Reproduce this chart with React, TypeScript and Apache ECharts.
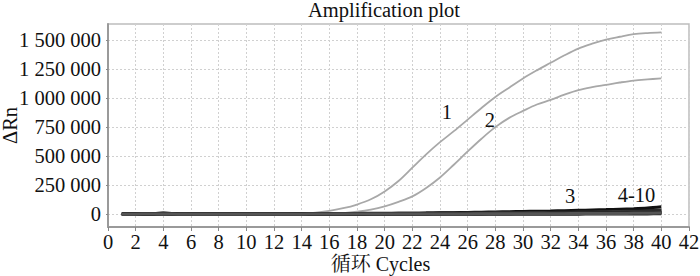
import React, { useEffect, useRef } from "react";
import * as echarts from "echarts";

const cycles = [1,2,3,4,5,6,7,8,9,10,11,12,13,14,15,16,17,18,19,20,21,22,23,24,25,26,27,28,29,30,31,32,33,34,35,36,37,38,39,40];

const curve1 = [0,0,0,0,0,0,0,0,0,0,0,0,2000,5000,12000,28000,50000,82000,127000,195000,285000,400000,515000,620000,715000,815000,915000,1010000,1090000,1170000,1240000,1305000,1370000,1428000,1470000,1505000,1530000,1552000,1562000,1567000];
const curve2 = [0,0,0,0,0,0,0,0,0,0,0,0,0,0,0,2000,8000,20000,38000,66000,105000,152000,225000,315000,425000,540000,650000,750000,830000,890000,945000,985000,1030000,1069000,1095000,1115000,1135000,1152000,1162000,1170000];
const curve3 = [3000,2000,2000,6000,2000,1000,1000,1000,1000,1000,1000,1000,1000,2000,2000,3000,4000,5000,6000,6000,7000,7000,8000,8000,9000,10000,11000,12000,13000,14000,15000,17000,18000,20000,22000,24000,26000,28000,31000,35000];
const curve4 = [0,1000,2000,8000,3000,1000,1000,1000,1000,1000,1000,1000,1000,1000,2000,3000,3000,4000,4000,5000,6000,7000,8000,10000,12000,14000,16000,18000,20000,22000,24000,26000,29000,32000,35000,38000,42000,46000,52000,62000];
const curve5 = [1000,0,0,4000,1000,0,0,0,0,0,0,0,0,1000,1000,1000,2000,2000,3000,3000,4000,4000,5000,6000,7000,8000,9000,10000,11000,12000,13000,14000,15000,17000,18000,20000,22000,24000,26000,28000];
const curve6 = [-2000,-2000,-1000,2000,-1000,-2000,-2000,-2000,-2000,-2000,-2000,-2000,-2000,-2000,-2000,-1000,-1000,-1000,0,0,0,1000,1000,2000,2000,3000,3000,4000,4000,5000,5000,6000,6000,7000,8000,9000,10000,11000,12000,14000];
const curve7 = [0,0,1000,3000,0,-1000,-1000,-1000,-1000,-1000,-1000,-1000,-1000,-1000,-1000,-1000,0,0,0,0,1000,1000,1000,2000,2000,2000,3000,3000,3000,4000,4000,5000,5000,6000,6000,7000,7000,8000,9000,10000];
const curve8 = [-4000,-4000,-4000,-1000,-4000,-4000,-4000,-4000,-4000,-4000,-4000,-4000,-4000,-4000,-4000,-4000,-4000,-4000,-3000,-3000,-3000,-3000,-3000,-3000,-2000,-2000,-2000,-2000,-2000,-1000,-1000,-1000,-1000,-1000,0,0,0,1000,1000,2000];
const curve9 = [2000,2000,3000,5000,2000,1000,1000,1000,1000,1000,1000,1000,1000,1000,1000,1000,1000,2000,2000,2000,2000,3000,3000,3000,4000,4000,5000,5000,6000,6000,7000,8000,9000,10000,11000,12000,14000,16000,18000,20000];
const curve10 = [-1000,-1000,0,1000,-1000,-1000,-1000,-1000,-1000,-1000,-1000,-1000,-1000,-1000,0,0,0,0,0,0,0,0,1000,1000,1000,1000,2000,2000,2000,2000,3000,3000,3000,4000,4000,5000,5000,6000,7000,8000];

const yTicks = [0, 250000, 500000, 750000, 1000000, 1250000, 1500000];
const curveLabels = [
  { text: "1", cycle: 24.5, value: 880000 },
  { text: "2", cycle: 27.6, value: 810000 },
  { text: "3", cycle: 33.4, value: 155000 },
  { text: "4-10", cycle: 38.2, value: 162000 },
];

const SERIF = "'Liberation Serif', 'Times New Roman', 'Noto Serif CJK SC', 'Noto Sans CJK SC', serif";
const FS = 20.5;

function fmt(v: number) {
  return String(v).replace(/\B(?=(\d{3})+(?!\d))/g, " ");
}

export default function App() {
  const ref = useRef<HTMLDivElement>(null);
  useEffect(() => {
    if (!ref.current) return;
    const chart = echarts.init(ref.current, undefined, { renderer: "svg" });
    const pairs = (arr: number[]) => cycles.map((c, i) => [c, arr[i]]);
    const band = [curve3, curve4, curve5, curve6, curve7, curve8, curve9, curve10];
    const bandColors = ["#222", "#111", "#333", "#000", "#444", "#1a1a1a", "#2b2b2b", "#555"];
    const series: any[] = [];
    series.push({
      type: "line",
      data: pairs(curve1),
      showSymbol: false,
      smooth: 0.35,
      lineStyle: { color: "#a8a8a8", width: 1.8 },
      z: 3,
      markPoint: {
        symbol: "circle",
        symbolSize: 0,
        silent: true,
        label: { show: true, position: "inside", color: "#111", fontSize: FS, fontFamily: SERIF },
        data: curveLabels.map((l) => ({ coord: [l.cycle, l.value], label: { formatter: l.text } })),
      },
    });
    series.push({
      type: "line",
      data: pairs(curve2),
      showSymbol: false,
      smooth: 0.35,
      lineStyle: { color: "#a8a8a8", width: 1.8 },
      z: 3,
    });
    band.forEach((arr, i) => {
      series.push({
        type: "line",
        data: pairs(arr),
        showSymbol: false,
        smooth: 0.3,
        lineStyle: { color: bandColors[i], width: 3 },
        z: 4,
      });
    });
    chart.setOption({
      animation: false,
      backgroundColor: "#fff",
      title: {
        text: "Amplification plot",
        left: 308,
        top: 0,
        padding: 0,
        textStyle: { fontSize: FS, fontWeight: "normal", color: "#111", fontFamily: SERIF },
      },
      grid: {
        left: 108,
        right: 11,
        top: 24,
        bottom: 49,
        outerBoundsMode: "none",
        containLabel: false,
        show: true,
        borderColor: "#bdbdbd",
        borderWidth: 1.5,
        backgroundColor: "#fff",
      },
      xAxis: {
        type: "value",
        min: 0,
        max: 42,
        interval: 2,
        name: "循环 Cycles",
        nameLocation: "middle",
        nameGap: 27,
        nameMoveOverlap: false,
        nameTextStyle: { fontSize: 20, color: "#111", fontFamily: SERIF, padding: [0, 36, 0, 0] },
        axisLine: { show: true, onZero: false, lineStyle: { color: "#9a9a9a", width: 2 } },
        axisTick: { show: true, length: 4, lineStyle: { color: "#888" } },
        axisLabel: { fontSize: FS, color: "#111", fontFamily: SERIF, margin: 5 },
        splitLine: { show: true, lineStyle: { type: [2, 2], color: "#d0d0d0", width: 1 } },
      },
      yAxis: {
        type: "value",
        min: -112000,
        max: 1640000,
        name: "ΔRn",
        nameLocation: "middle",
        nameGap: 88,
        nameMoveOverlap: false,
        nameTextStyle: { fontSize: FS, color: "#111", fontFamily: SERIF },
        axisLine: { show: true, lineStyle: { color: "#9a9a9a", width: 2 } },
        axisTick: { show: true, length: 2, customValues: yTicks, lineStyle: { color: "#888" } },
        axisLabel: { fontSize: FS, color: "#111", fontFamily: SERIF, margin: 7, customValues: yTicks, formatter: (v: number) => fmt(v) },
        splitLine: { show: true, lineStyle: { type: [2, 2], color: "#d0d0d0", width: 1 } },
      },
      series,
    });
    return () => chart.dispose();
  }, []);
  return <div ref={ref} style={{ width: 700, height: 276, position: "fixed", left: 0, top: 0 }} />;
}
